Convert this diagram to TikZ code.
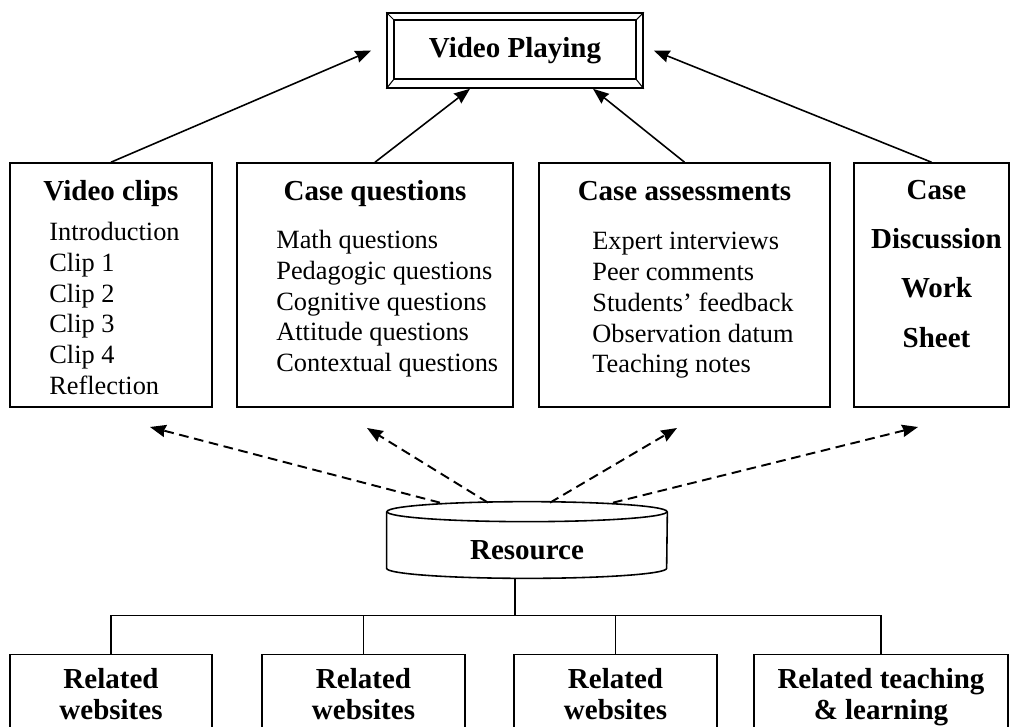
\documentclass[tikz,border=0pt]{standalone}
\usepackage{fontspec}
\setmainfont{Liberation Serif}
\usetikzlibrary{arrows.meta,calc}
\tikzset{
  box/.style={draw, line width=0.9pt, inner sep=0pt},
  head/.style={font=\fontsize{16.5}{17.6}\selectfont\bfseries, inner sep=0pt},
  items/.style={font=\fontsize{15}{17.5}\selectfont, align=left, anchor=north west, inner sep=0pt},
  link/.style={->, line width=0.9pt},
  dlink/.style={->, line width=1.1pt, dash pattern=on 5.5pt off 3.2pt}
}
\begin{document}
\begin{tikzpicture}[>={Stealth[length=9pt,width=7pt,inset=0.8pt]}]
    \path [use as bounding box, clip] (0,0) rectangle (20.22,-14.54);
    % top box
    \node [box, minimum width=5.12cm, minimum height=1.5cm] (play) at (10.30,-1.01) {};
    \draw [line width=0.9pt] ([shift={(0.16,-0.16)}]play.north west) rectangle ([shift={(-0.16,0.2)}]play.south east);
    \draw [line width=0.6pt] (play.north west) -- ([shift={(0.16,-0.16)}]play.north west);
    \draw [line width=0.6pt] (play.north east) -- ([shift={(-0.16,-0.16)}]play.north east);
    \draw [line width=0.6pt] (play.south west) -- ([shift={(0.16,0.2)}]play.south west);
    \draw [line width=0.6pt] (play.south east) -- ([shift={(-0.16,0.2)}]play.south east);
    \node [head] (playtext) at (play.center) {Video Playing};
    % middle boxes
    \node [box, minimum width=4.04cm, minimum height=4.88cm] (clips) at (2.22,-5.70) {};
    \node [box, minimum width=5.52cm, minimum height=4.88cm] (quest) at (7.50,-5.70) {};
    \node [box, minimum width=5.82cm, minimum height=4.88cm] (assess) at (13.69,-5.70) {};
    \node [box, minimum width=3.10cm, minimum height=4.88cm] (disc) at (18.63,-5.70) {};
    \node [head, anchor=base] (clipshead) at (2.22,-4.00) {Video clips};
    \node [head, anchor=base] (questhead) at (7.50,-4.00) {Case questions};
    \node [head, anchor=base] (assesshead) at (13.69,-4.00) {Case assessments};
    \node [items] (clipslist) at (0.98,-4.44) {Introduction\\Clip 1\\Clip 2\\Clip 3\\Clip 4\\Reflection};
    \node [items] (questlist) at (5.52,-4.60) {Math questions\\Pedagogic questions\\Cognitive questions\\Attitude questions\\Contextual questions};
    \node [items] (assesslist) at (11.84,-4.64) {Expert interviews\\Peer comments\\Students' feedback\\Observation datum\\Teaching notes};
    \node [font=\fontsize{16.5}{28}\selectfont\bfseries, align=center, anchor=north, inner sep=0pt] (disctext) at (18.73,-3.60) {Case\\Discussion\\Work\\Sheet};
    \draw [link] (clips.north) -- ([xshift=-0.3cm]play.west);
    \draw [link] (quest.north) -- ([xshift=-0.9cm]play.south);
    \draw [link] (assess.north) -- ([xshift=1.56cm]play.south);
    \draw [link] (disc.north) -- ([xshift=0.2cm]play.east);
    % resource cylinder
    \node [head, minimum width=5.6cm, minimum height=1.12cm] (res) at (10.54,-11.00) {Resource};
    \draw [line width=0.9pt] ([yshift=0.2cm]res.center |- res.north) ellipse (2.8 and 0.2);
    \draw [line width=0.9pt] ([yshift=0.2cm]res.north west) -- ([yshift=0.2cm]res.south west) arc (180:360:2.8 and 0.2) -- ([yshift=0.2cm]res.north east);
    \coordinate (d1) at (3.00,-8.54);
    \coordinate (d2) at (7.34,-8.56);
    \coordinate (d3) at (13.54,-8.56);
    \coordinate (d4) at (18.36,-8.54);
    \draw [dlink] ($(res.north)+(-1.74,0.38)$) -- (d1);
    \draw [dlink] ($(res.north)+(-0.78,0.38)$) -- (d2);
    \draw [dlink] ($(res.north)+(0.46,0.38)$) -- (d3);
    \draw [dlink] ($(res.north)+(1.72,0.38)$) -- (d4);
    % bottom boxes
    \node [box, head, minimum width=4.04cm, minimum height=1.7cm, align=center] (web1) at (2.22,-13.94) {Related\\websites\vphantom{g}};
    \node [box, head, minimum width=4.06cm, minimum height=1.7cm, align=center] (web2) at (7.27,-13.94) {Related\\websites\vphantom{g}};
    \node [box, head, minimum width=4.06cm, minimum height=1.7cm, align=center] (web3) at (12.31,-13.94) {Related\\websites\vphantom{g}};
    \node [box, head, minimum width=5.08cm, minimum height=1.7cm, align=center] (teach) at (17.62,-13.94) {Related teaching\\\& learning};
    \draw [line width=0.9pt] ([xshift=-0.24cm]res.south) -- ++(0,-0.74) -| (web1.north);
    \draw [line width=0.9pt] ([xshift=-0.24cm]res.south) -- ++(0,-0.74) -| (web2.north);
    \draw [line width=0.9pt] ([xshift=-0.24cm]res.south) -- ++(0,-0.74) -| (web3.north);
    \draw [line width=0.9pt] ([xshift=-0.24cm]res.south) -- ++(0,-0.74) -| (teach.north);
\end{tikzpicture}
\end{document}
